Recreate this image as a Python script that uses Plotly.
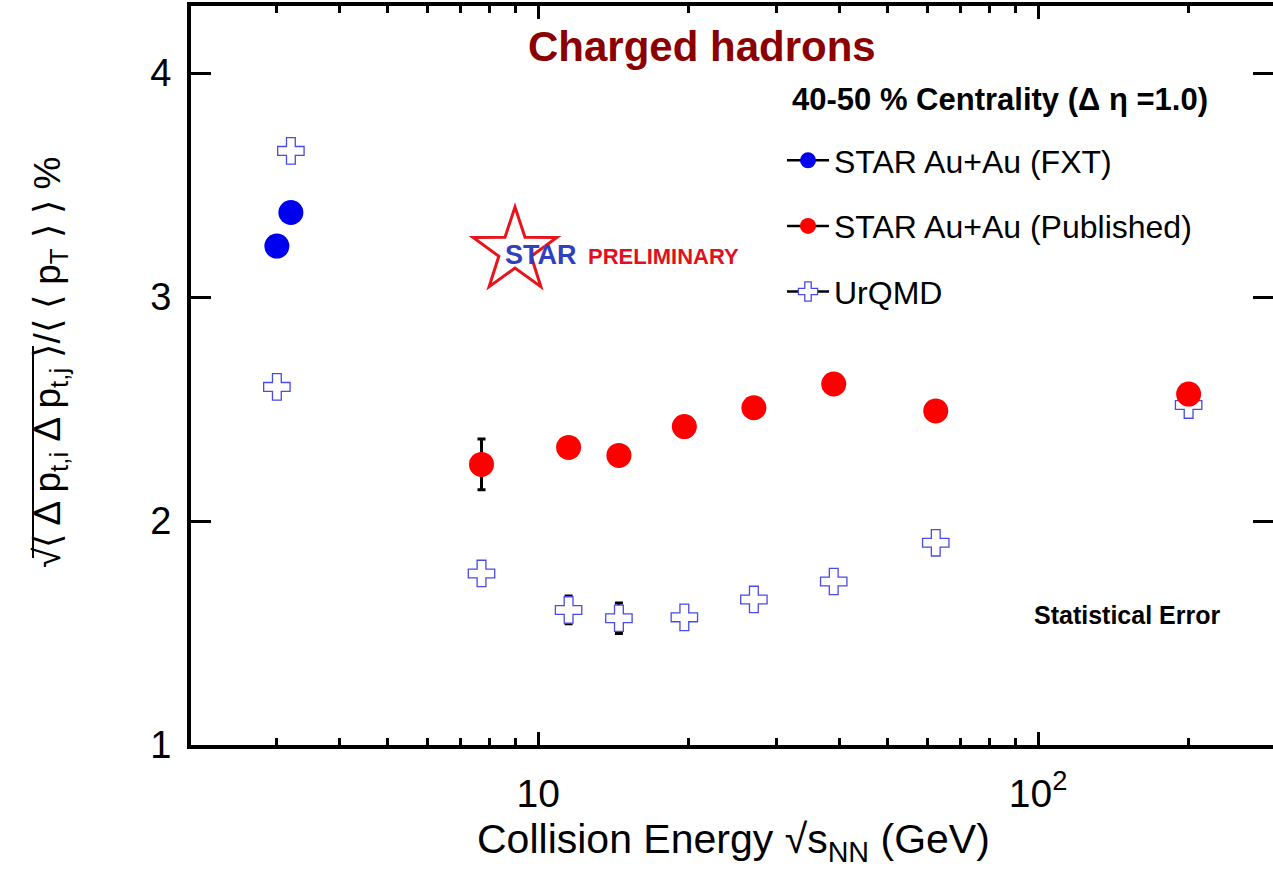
import math
import plotly.graph_objects as go

# ---------------- data ----------------
fxt_energy = [3.0, 3.2]
fxt_value = [3.228, 3.378]
fxt_err = [0.03, 0.03]

pub_energy = [7.7, 11.5, 14.5, 19.6, 27, 39, 62.4, 200]
pub_value = [2.253, 2.329, 2.293, 2.422, 2.506, 2.612, 2.492, 2.567]
pub_err = [0.113, 0.03, 0.03, 0.03, 0.03, 0.03, 0.03, 0.03]

urqmd_energy = [3.0, 3.2, 7.7, 11.5, 14.5, 19.6, 27, 39, 62.4, 200]
urqmd_value = [2.599, 3.653, 1.766, 1.603, 1.566, 1.570, 1.650, 1.730, 1.903, 2.518]
urqmd_err = [0.03, 0.03, 0.03, 0.062, 0.068, 0.03, 0.03, 0.03, 0.03, 0.03]

x_major = [10, 100]
x_major_text = ["10", "10<sup>2</sup>"]
x_minor = [3, 4, 5, 6, 7, 8, 9, 20, 30, 40, 50, 60, 70, 80, 90, 200]
y_ticks = [1, 2, 3, 4]

# ---------------- layout geometry ----------------
W, H = 1273, 870
ML, MR, MT, MB = 191, 0, 6, 125
PW, PH = W - ML - MR, H - MT - MB
FONT = "Liberation Sans, Arial, Helvetica, sans-serif"


def px(x):
    return (x - ML) / PW


def py(y):
    return (H - MB - y) / PH


BLUE = "#0000f0"
RED = "#ff0000"
CROSS = "#4a4ae6"

fig = go.Figure()

err_style = dict(type="data", color="black", thickness=3, width=4)

fig.add_trace(go.Scatter(
    x=urqmd_energy, y=urqmd_value, mode="markers", showlegend=False,
    error_y=dict(array=urqmd_err, **err_style),
    marker=dict(symbol="cross", size=22, color="white",
                line=dict(color=CROSS, width=1.3)),
))
fig.add_trace(go.Scatter(
    x=pub_energy, y=pub_value, mode="markers", showlegend=False,
    error_y=dict(array=pub_err, **err_style),
    marker=dict(symbol="circle", size=25, color=RED, line=dict(width=0)),
))
fig.add_trace(go.Scatter(
    x=fxt_energy, y=fxt_value, mode="markers", showlegend=False,
    error_y=dict(array=fxt_err, **err_style),
    marker=dict(symbol="circle", size=25, color=BLUE, line=dict(width=0)),
))

# legend entries
legend_items = [
    ("STAR Au+Au (FXT)", dict(symbol="circle", size=25, color=BLUE, line=dict(width=0))),
    ("STAR Au+Au (Published)", dict(symbol="circle", size=25, color=RED, line=dict(width=0))),
    ("UrQMD", dict(symbol="cross", size=22, color="white", line=dict(color=CROSS, width=1.3))),
]
for i, (name, mk) in enumerate(legend_items):
    fig.add_trace(go.Scatter(
        x=[None], y=[None], mode="lines+markers", name=name,
        legendgroup=f"g{i}", line=dict(color="black", width=2.5), marker=mk,
    ))

# STAR logo star outline
cx, cy, R, r = 515, 251, 44, 17
pts = []
for k in range(10):
    ang = math.pi / 2 + k * math.pi / 5
    rad = R if k % 2 == 0 else r
    pts.append((px(cx + rad * math.cos(ang)), py(cy - rad * math.sin(ang))))
path = "M " + " L ".join(f"{a:.5f},{b:.5f}" for a, b in pts) + " Z"

shapes = [
    dict(type="path", path=path, xref="paper", yref="paper",
         line=dict(color="#e8141c", width=3), fillcolor="rgba(0,0,0,0)"),
    # overbar of the square root in the y-axis title
    dict(type="line", xref="paper", yref="paper", x0=px(33), x1=px(33), y0=py(346), y1=py(558),
         line=dict(color="black", width=2)),
]

annotations = [
    dict(text="<b>Charged hadrons</b>", x=px(702), y=py(47), font=dict(size=42, color="#8b0000")),
    dict(text="<b>40-50 % Centrality (Δ η =1.0)</b>", x=px(790), y=py(100), xanchor="left",
         font=dict(size=31, color="black")),
    dict(text="<b>Statistical Error</b>", x=px(1127), y=py(615), font=dict(size=25, color="black")),
    dict(text="<b>STAR</b>", x=px(541), y=py(255), font=dict(size=27, color="#3040c0")),
    dict(text="<b>PRELIMINARY</b>", x=px(663), y=py(256), font=dict(size=22, color="#e01020")),
    dict(text="Collision Energy √s<sub>NN</sub> (GeV)", x=px(733), y=py(842),
         font=dict(size=41, color="black")),
    dict(text="√⟨ Δ p<sub>t,i</sub> Δ p<sub>t,j</sub> ⟩/⟨ ⟨ p<sub>T</sub> ⟩ ⟩ %", x=px(50), y=py(363),
         textangle=-90, font=dict(size=37, color="black")),
]
for a in annotations:
    a.setdefault("xanchor", "center")
    a.update(xref="paper", yref="paper", yanchor="middle", showarrow=False)
    a["font"]["family"] = FONT

fig.update_layout(
    width=W, height=H,
    margin=dict(l=ML, r=MR, t=MT, b=MB, autoexpand=False),
    paper_bgcolor="white", plot_bgcolor="white",
    font=dict(family=FONT, color="black"),
    shapes=shapes, annotations=annotations,
    showlegend=True,
    legend=dict(x=px(782), y=py(133), xanchor="left", yanchor="top",
                bgcolor="rgba(0,0,0,0)", borderwidth=0,
                font=dict(size=32, family=FONT, color="black"),
                tracegroupgap=21, itemsizing="trace", itemwidth=42),
    xaxis=dict(
        type="log", range=[math.log10(2.02), math.log10(295)],
        tickmode="array", tickvals=x_major, ticktext=x_major_text,
        ticks="inside", ticklen=13, tickwidth=3, tickcolor="black",
        minor=dict(tickmode="array", tickvals=x_minor, ticks="inside", ticklen=7,
                   tickwidth=3, tickcolor="black", showgrid=False),
        showline=True, linewidth=4, linecolor="black", mirror="ticks",
        showgrid=False, zeroline=False,
        tickfont=dict(size=39, family=FONT), ticklabelstandoff=11,
    ),
    yaxis=dict(
        range=[1, 4.3], tickmode="array", tickvals=y_ticks,
        ticks="inside", ticklen=20, tickwidth=3, tickcolor="black",
        showline=True, linewidth=4, linecolor="black", mirror="ticks",
        showgrid=False, zeroline=False,
        tickfont=dict(size=38, family=FONT), ticklabelstandoff=8,
    ),
)

fig.write_html("out.html")
